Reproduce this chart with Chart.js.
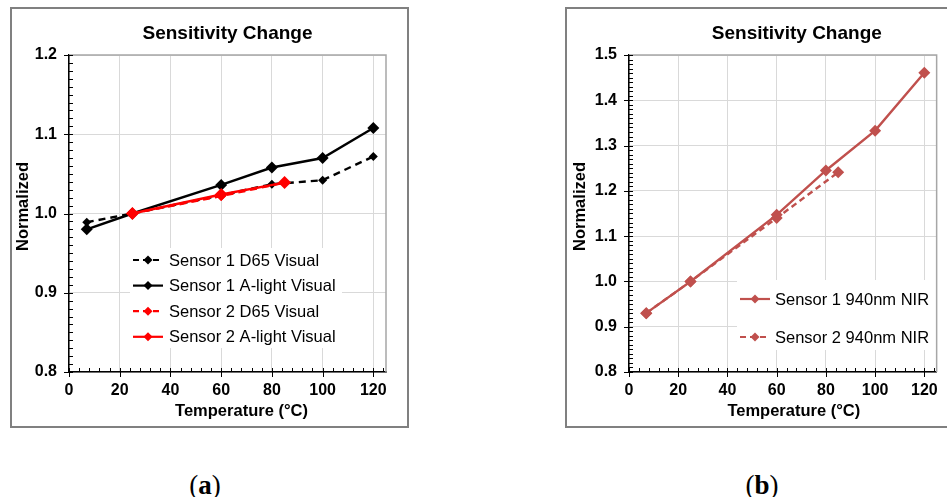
<!DOCTYPE html>
<html>
<head>
<meta charset="utf-8">
<script src="https://cdn.jsdelivr.net/npm/chart.js@4"></script>
<style>
  body { margin: 0; background: #fff; width: 947px; height: 497px; position: relative; overflow: hidden; font-family: "Liberation Sans", Arial, sans-serif; }
  .box { position: absolute; border: 2px solid #808080; box-sizing: border-box; }
  .cv { position: absolute; }
  .cap { position: absolute; width: 100px; text-align: center; font-family: "Liberation Serif", "DejaVu Serif", serif; font-size: 27px; line-height: 26px; top: 472px; color: #000; }
</style>
</head>
<body>
<div class="box" style="left:10px;top:7px;width:399px;height:421px"></div>
<div class="box" style="left:565px;top:7px;width:400px;height:421px"></div>
<div class="cv" style="left:12px;top:9px;width:394px;height:416px"><canvas id="chartA"></canvas></div>
<div class="cv" style="left:567px;top:9px;width:380px;height:416px"><canvas id="chartB"></canvas></div>
<div class="cap" style="left:155px">(<b>a</b>)</div>
<div class="cap" style="left:712px">(<b>b</b>)</div>

<script>
// chart (a): visual sensitivity
var temps1 = [7, 25, 60, 80, 100, 120];
var s1D65 = [0.989, 1.000, 1.023, 1.037, 1.042, 1.072];
var s1ALight = [0.980, 1.000, 1.036, 1.058, 1.070, 1.108];
var temps2 = [25, 60, 85];
var s2D65 = [1.000, 1.022, 1.039];
var s2ALight = [1.000, 1.024, 1.039];

// chart (b): 940nm NIR sensitivity
var nirTemps1 = [7, 25, 60, 80, 100, 120];
var nir1 = [0.930, 1.000, 1.147, 1.245, 1.333, 1.461];
var nirTemps2 = [7, 25, 60, 85];
var nir2 = [0.930, 1.000, 1.140, 1.241];

// tick labels
var xTicks = [0, 20, 40, 60, 80, 100, 120];
var yTicksA = [0.8, 0.9, 1.0, 1.1, 1.2];
var yTicksB = [0.8, 0.9, 1.0, 1.1, 1.2, 1.3, 1.4, 1.5];

var titleText = "Sensitivity Change";
var xTitle = "Temperature (\u00B0C)";
var yTitle = "Normalized";

function points(xs, ys) {
  return xs.map(function(x, i) { return { x: x, y: ys[i] }; });
}

function diamond(ctx, x, y, r) {
  ctx.beginPath();
  ctx.moveTo(x, y - r);
  ctx.lineTo(x + r, y);
  ctx.lineTo(x, y + r);
  ctx.lineTo(x - r, y);
  ctx.closePath();
  ctx.fill();
}

// titles, frame, minor/major tick marks and the boxed legend inside the plot
var decor = {
  id: "decor",
  afterDraw: function(chart) {
    var o = chart.options.plugins.decor;
    var ctx = chart.ctx, a = chart.chartArea;
    var xs = chart.scales.x, ys = chart.scales.y;
    var midX = (a.left + a.right) / 2, midY = (a.top + a.bottom) / 2;
    ctx.save();

    // titles
    ctx.fillStyle = "#000";
    ctx.textAlign = "center";
    ctx.textBaseline = "middle";
    ctx.font = "bold 19px 'Liberation Sans'";
    ctx.fillText(titleText, midX + o.titleDx, o.titleY);
    ctx.font = "bold 16.5px 'Liberation Sans'";
    ctx.fillText(xTitle, midX + o.xTitleDx, o.xTitleY);
    ctx.save();
    ctx.translate(o.yTitleX, midY + o.yTitleDy);
    ctx.rotate(-Math.PI / 2);
    ctx.fillText(yTitle, 0, 0);
    ctx.restore();

    // legend
    var L = o.legend;
    ctx.textAlign = "left";
    ctx.fillStyle = "#fff";
    ctx.fillRect(L.x, L.y, L.w, L.h);
    ctx.font = L.font;
    L.items.forEach(function(it, i) {
      var cy = L.firstRow + i * L.rowH;
      ctx.strokeStyle = it.color;
      ctx.fillStyle = it.color;
      ctx.lineWidth = 2.2;
      ctx.setLineDash(it.dash);
      ctx.beginPath();
      ctx.moveTo(L.symX, cy);
      ctx.lineTo(L.symX + 30, cy);
      ctx.stroke();
      ctx.setLineDash([]);
      diamond(ctx, L.symX + 15, cy, 4.5);
      ctx.fillStyle = "#000";
      ctx.fillText(it.text, L.textX, cy + 1);
    });

    // plot frame (top and right)
    ctx.strokeStyle = "#a6a6a6";
    ctx.lineWidth = 1.5;
    ctx.beginPath();
    ctx.moveTo(a.left, a.top);
    ctx.lineTo(a.right, a.top);
    ctx.lineTo(a.right, a.bottom);
    ctx.stroke();

    // tick marks
    ctx.strokeStyle = "#000";
    ctx.lineWidth = 1;
    ctx.beginPath();
    var n = Math.round((xs.max - xs.min) / o.minorX);
    for (var i = 0; i <= n; i++) {
      var v = xs.min + i * o.minorX;
      var px = Math.round(xs.getPixelForValue(v)) + 0.5;
      if (xTicks.indexOf(v) >= 0) {
        ctx.moveTo(px, a.bottom - 4);
        ctx.lineTo(px, a.bottom + 5);
      } else {
        ctx.moveTo(px, a.bottom - 4);
        ctx.lineTo(px, a.bottom);
      }
    }
    var m = Math.round((ys.max - ys.min) / o.minorY);
    for (var j = 0; j <= m; j++) {
      var yv = ys.min + j * o.minorY;
      var py = Math.round(ys.getPixelForValue(yv)) + 0.5;
      if (j % 10 === 0) {
        ctx.moveTo(a.left - 5, py);
        ctx.lineTo(a.left + 4, py);
      } else {
        ctx.moveTo(a.left, py);
        ctx.lineTo(a.left + 4, py);
      }
    }
    ctx.stroke();
    ctx.restore();
  }
};

function makeOptions(yTicks, yMin, yMax, yWidth, padRight, decorOpts) {
  decorOpts.minorX = 4;
  decorOpts.minorY = 0.01;
  decorOpts.titleY = 25;
  decorOpts.xTitleY = 402;
  return {
    responsive: true,
    maintainAspectRatio: false,
    animation: false,
    layout: { padding: { left: 0, right: padRight, top: 46, bottom: 0 } },
    plugins: {
      legend: { display: false },
      tooltip: { enabled: false },
      title: { display: false },
      decor: decorOpts
    },
    scales: {
      x: {
        type: "linear",
        min: 0,
        max: 125,
        afterBuildTicks: function(s) { s.ticks = xTicks.map(function(v) { return { value: v }; }); },
        afterFit: function(s) { s.height = 53; },
        ticks: {
          color: "#000",
          padding: 9,
          font: { family: "Liberation Sans", size: 16, weight: "bold" },
          callback: function(v) { return v; }
        },
        grid: { color: "#d9d9d9", lineWidth: 1, drawTicks: false },
        border: { color: "#000", width: 1.5 }
      },
      y: {
        min: yMin,
        max: yMax,
        afterBuildTicks: function(s) { s.ticks = yTicks.map(function(v) { return { value: v }; }); },
        afterFit: function(s) { s.width = yWidth; },
        ticks: {
          color: "#000",
          padding: 12,
          font: { family: "Liberation Sans", size: 16, weight: "bold" },
          callback: function(v) { return v.toFixed(1); }
        },
        grid: { color: "#d9d9d9", lineWidth: 1, drawTicks: false },
        border: { color: "#000", width: 1.5 }
      }
    }
  };
}

window.onload = function() {
  Chart.register(decor);

  var black = "#000000";
  var red = "#ff0000";
  var nirRed = "#c0504d";

  new Chart(document.getElementById("chartA"), {
    type: "line",
    data: {
      datasets: [
        {
          label: "Sensor 1 D65 Visual",
          data: points(temps1, s1D65),
          borderColor: black, backgroundColor: black,
          borderWidth: 2.4, borderDash: [7, 5],
          pointStyle: "rectRot", pointRadius: 4.5, pointBorderWidth: 0,
          order: 2
        },
        {
          label: "Sensor 1 A-light Visual",
          data: points(temps1, s1ALight),
          borderColor: black, backgroundColor: black,
          borderWidth: 2.4,
          pointStyle: "rectRot", pointRadius: 6, pointBorderWidth: 0,
          order: 2
        },
        {
          label: "Sensor 2 D65 Visual",
          data: points(temps2, s2D65),
          borderColor: red, backgroundColor: red,
          borderWidth: 2.4, borderDash: [7, 5],
          pointStyle: "rectRot", pointRadius: 5, pointBorderWidth: 0,
          order: 1
        },
        {
          label: "Sensor 2 A-light Visual",
          data: points(temps2, s2ALight),
          borderColor: red, backgroundColor: red,
          borderWidth: 2.4,
          pointStyle: "rectRot", pointRadius: 6.5, pointBorderWidth: 0,
          order: 1
        }
      ]
    },
    options: makeOptions(yTicksA, 0.8, 1.2, 57, 20, {
      titleDx: 0, xTitleDx: 14, yTitleX: 11, yTitleDy: -7,
      legend: {
        x: 118, y: 239, w: 212, h: 100,
        firstRow: 251, rowH: 25.6, symX: 121, textX: 157,
        font: "16.5px 'Liberation Sans'",
        items: [
          { text: "Sensor 1 D65 Visual", color: black, dash: [6, 4] },
          { text: "Sensor 1 A-light Visual", color: black, dash: [] },
          { text: "Sensor 2 D65 Visual", color: red, dash: [6, 4] },
          { text: "Sensor 2 A-light Visual", color: red, dash: [] }
        ]
      }
    })
  });

  new Chart(document.getElementById("chartB"), {
    type: "line",
    data: {
      datasets: [
        {
          label: "Sensor 1 940nm NIR",
          data: points(nirTemps1, nir1),
          borderColor: nirRed, backgroundColor: nirRed,
          borderWidth: 2.4,
          pointStyle: "rectRot", pointRadius: 6, pointBorderWidth: 0
        },
        {
          label: "Sensor 2 940nm NIR",
          data: points(nirTemps2, nir2),
          borderColor: nirRed, backgroundColor: nirRed,
          borderWidth: 2.4, borderDash: [6, 4],
          pointStyle: "rectRot", pointRadius: 6, pointBorderWidth: 0
        }
      ]
    },
    options: makeOptions(yTicksB, 0.8, 1.5, 62, 8, {
      titleDx: 14, xTitleDx: 11, yTitleX: 13, yTitleDy: -7,
      legend: {
        x: 170, y: 271, w: 202, h: 70,
        firstRow: 290, rowH: 38, symX: 173, textX: 208,
        font: "16.5px 'Liberation Sans'",
        items: [
          { text: "Sensor 1 940nm NIR", color: nirRed, dash: [] },
          { text: "Sensor 2 940nm NIR", color: nirRed, dash: [6, 4] }
        ]
      }
    })
  });
};
</script>
</body>
</html>
